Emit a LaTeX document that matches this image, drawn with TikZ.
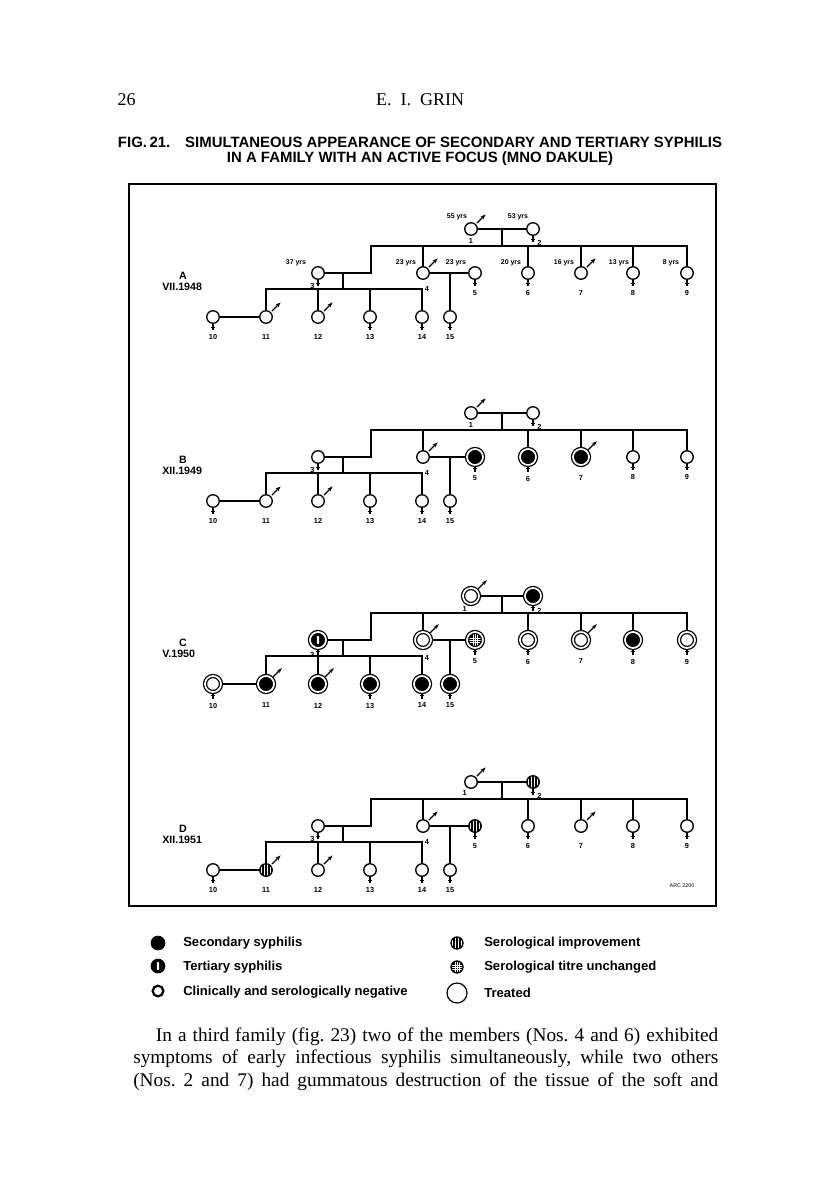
\documentclass[tikz,border=0pt]{standalone}
\usepackage{fontspec}
\setmainfont{Liberation Serif}
\setsansfont{Liberation Sans}
\usetikzlibrary{positioning,arrows.meta}
\frenchspacing

\tikzset{
  pers/.style={circle, draw, line width=1pt, minimum size=9.4pt, inner sep=0pt, fill=white, ring},
  ring/.style={},
  treat/.style={minimum size=12pt, line width=0.95pt, double=white, double distance=1.3pt},
  neg/.style={pers},
  sec/.style={pers, fill=black},
  tert/.style={sec, path picture={\fill[white, rounded corners=0.6pt]
      ([shift={(-0.8pt,-3pt)}]path picture bounding box.center) rectangle
      ([shift={(0.8pt,3pt)}]path picture bounding box.center);}},
  impr/.style={sec, path picture={\foreach \s in {-3.2,-1.1,1.1,3.2}
      \draw[white, line width=0.6pt] ([xshift=\s pt]path picture bounding box.north)
        -- ([xshift=\s pt]path picture bounding box.south);}},
  titre/.style={sec, path picture={\foreach \s in {-1.6,0,1.6} {
      \draw[white, line width=0.45pt] ([xshift=\s pt]path picture bounding box.north)
        -- ([xshift=\s pt]path picture bounding box.south);
      \draw[white, line width=0.45pt] ([yshift=\s pt]path picture bounding box.west)
        -- ([yshift=\s pt]path picture bounding box.east);}}},
  link/.style={line width=0.9pt},
  marrow/.style={line width=0.9pt, -{Stealth[length=4pt,width=2.8pt]}},
  fcross/.style={line width=0.8pt},
  num/.style={font=\sffamily\bfseries\fontsize{5.5}{6}\selectfont, inner sep=0pt},
  age/.style={font=\sffamily\bfseries\fontsize{5.2}{6}\selectfont, inner sep=0pt},
  gen/.style={font=\sffamily\bfseries\fontsize{8}{9}\selectfont, inner sep=0pt},
  keytext/.style={font=\sffamily\bfseries\fontsize{9.8}{11}\selectfont, anchor=west, inner sep=0pt},
  one/.style={anchor=north, yshift=-2pt},
  p1/.style={}, p2/.style={}, p3/.style={}, p4/.style={}, p5/.style={},
  p6/.style={}, p7/.style={}, p8/.style={}, p9/.style={}, p10/.style={},
  p11/.style={}, p12/.style={}, p13/.style={}, p14/.style={}, p15/.style={}
}

% one generation of the family, #1 = letter, #2 = date
\newcommand\family[2]{%
  \node[neg, p1] (#1-1) at (471,229) {};
  \node[neg, p2] (#1-2) at (533,229) {};
  \node[neg, p3] (#1-3) at (318,273) {};
  \node[neg, p4] (#1-4) at (423,273) {};
  \node[neg, p5] (#1-5) at (475,273) {};
  \foreach \i/\x in {6/528,7/581,8/633,9/687}
    \node[neg, p\i] (#1-\i) at (\x,273) {};
  \foreach \i/\x in {10/213,11/266,12/318,13/370,14/422,15/450}
    \node[neg, p\i] (#1-\i) at (\x,317) {};
  \coordinate (#1-s) at (371,246);
  \coordinate (#1-m) at (502,229);
  \coordinate (#1-k) at (343,289);
  \draw[link] (#1-1) -- (#1-2);
  \draw[link] (#1-m) -- (#1-m |- #1-s);
  \draw[link] (#1-3) -| (#1-s) -| (#1-9);
  \foreach \i in {4,6,7,8} \draw[link] (#1-\i) -- (#1-\i |- #1-s);
  \draw[link] (#1-k) -- (#1-k |- #1-3);
  \draw[link] (#1-11) |- (#1-k) -| (#1-14);
  \foreach \i in {12,13} \draw[link] (#1-\i) -- (#1-\i |- #1-k);
  \draw[link] (#1-10) -- (#1-11);
  \draw[link] (#1-4) -- (#1-5);
  \draw[link] (#1-15) -- (#1-15 |- #1-4);
  % sex signs
  \foreach \i in {1,4,7,11,12}
    \draw[marrow] ([shift={(0.8pt,0.8pt)}]#1-\i.45) -- ++(6.5pt,6.5pt);
  \foreach \i in {2,3,5,6,8,9,10,13,14,15}
    \draw[fcross] (#1-\i.south) -- ++(0pt,-4.5pt)
      ([yshift=-2.4pt]#1-\i.south) ++(-1.8pt,0pt) -- ++(3.6pt,0pt);
  % numbers
  \node[num, one] (#1-l1) at (#1-1.south) {1};
  \node[num, anchor=west] (#1-l2) at ([xshift=3pt,yshift=-5pt]#1-2.south) {2};
  \node[num, anchor=east] (#1-l3) at ([xshift=-2.5pt,yshift=-4.5pt]#1-3.south) {3};
  \node[num, anchor=north] (#1-l4) at ([xshift=3pt,yshift=-5pt]#1-4.south) {4};
  \foreach \i in {5,...,15} \node[num, below=7.5pt of #1-\i] (#1-l\i) {\i};
  \node[gen] (#1-let) at (183,276) {#1};
  \node[gen, anchor=west] (#1-date) at (162,287) {#2};
}

\begin{document}
\begin{tikzpicture}[x=0.75pt, y=-0.75pt]
  \fill[white] (0,0) rectangle (816,1201);
  \useasboundingbox (0,0) rectangle (816,1201);

  \node[anchor=base west, font=\fontsize{13.5}{16}\selectfont] (page) at (113,106) {26};
  \node[anchor=base, font=\fontsize{13.5}{16}\selectfont] (runhead) at (420,106) {E.~~I.~~GRIN};
  \node[anchor=base, font=\sffamily\bfseries\fontsize{11.2}{13}\selectfont] (title1) at (420,148)
    {FIG.\,21.\quad SIMULTANEOUS APPEARANCE OF SECONDARY AND TERTIARY SYPHILIS};
  \node[anchor=base, font=\sffamily\bfseries\fontsize{11.2}{13}\selectfont] (title2) at (420,163)
    {IN A FAMILY WITH AN ACTIVE FOCUS (MNO DAKULE)};

  \draw[line width=0.8pt] (129,184) rectangle (716,906);

  \family{A}{VII.1948}
  \node[age] (age1) at (457,217) {55 yrs};
  \node[age] (age2) at (518,217) {53 yrs};
  \node[age] (age3) at (296,263) {37 yrs};
  \node[age] (age4) at (406,263) {23 yrs};
  \node[age] (age5) at (456,263) {23 yrs};
  \node[age] (age6) at (511,263) {20 yrs};
  \node[age] (age7) at (564,263) {16 yrs};
  \node[age] (age8) at (619,263) {13 yrs};
  \node[age] (age9) at (671,263) {8 yrs};

  \begin{scope}[shift={(0,184)}, p5/.style={sec,treat}, p6/.style={sec,treat}, p7/.style={sec,treat}]
    \family{B}{XII.1949}
  \end{scope}

  \begin{scope}[shift={(0,367)}, ring/.style={treat}, one/.style={anchor=north east, xshift=-3pt, yshift=-1pt},
      p2/.style={sec}, p3/.style={tert}, p5/.style={titre}, p8/.style={sec},
      p11/.style={sec}, p12/.style={sec}, p13/.style={sec}, p14/.style={sec}, p15/.style={sec}]
    \family{C}{V.1950}
  \end{scope}

  \begin{scope}[shift={(0,553)}, one/.style={anchor=north east, xshift=-3pt, yshift=-1pt},
      p2/.style={impr}, p5/.style={impr}, p11/.style={impr}]
    \family{D}{XII.1951}
  \end{scope}
  \node[font=\sffamily\fontsize{4}{5}\selectfont, inner sep=0pt] (ref) at (682,886) {ARC 2200};

  % key
  \node[sec, minimum size=10pt] (key1) at (158,943) {};
  \node[tert, minimum size=10pt] (key2) at (158,966) {};
  \node[pers, minimum size=8pt, line width=1.7pt] (key3) at (158,991) {};
  \node[impr, minimum size=9pt] (key4) at (457,943) {};
  \node[titre, minimum size=9pt] (key5) at (457,967) {};
  \node[pers, minimum size=15pt, line width=0.9pt] (key6) at (457,993) {};
  \node[keytext] (txt1) at (183,943) {Secondary syphilis};
  \node[keytext] (txt2) at (183,967) {Tertiary syphilis};
  \node[keytext] (txt3) at (183,992) {Clinically and serologically negative};
  \node[keytext] (txt4) at (484,943) {Serological improvement};
  \node[keytext] (txt5) at (484,967) {Serological titre unchanged};
  \node[keytext] (txt6) at (484,993) {Treated};

  \node[anchor=base west, inner sep=0pt, font=\fontsize{14.5}{17}\selectfont] (line1) at (133,1041)
    {\hbox to 438.75pt{\hspace{17pt}In a third family (fig. 23) two of the members (Nos. 4 and 6) exhibited}};
  \node[anchor=base west, inner sep=0pt, font=\fontsize{14.5}{17}\selectfont] (line2) at (133,1063)
    {\hbox to 438.75pt{symptoms of early infectious syphilis simultaneously, while two others}};
  \node[anchor=base west, inner sep=0pt, font=\fontsize{14.5}{17}\selectfont] (line3) at (133,1086)
    {\hbox to 438.75pt{(Nos. 2 and 7) had gummatous destruction of the tissue of the soft and}};
\end{tikzpicture}
\end{document}
